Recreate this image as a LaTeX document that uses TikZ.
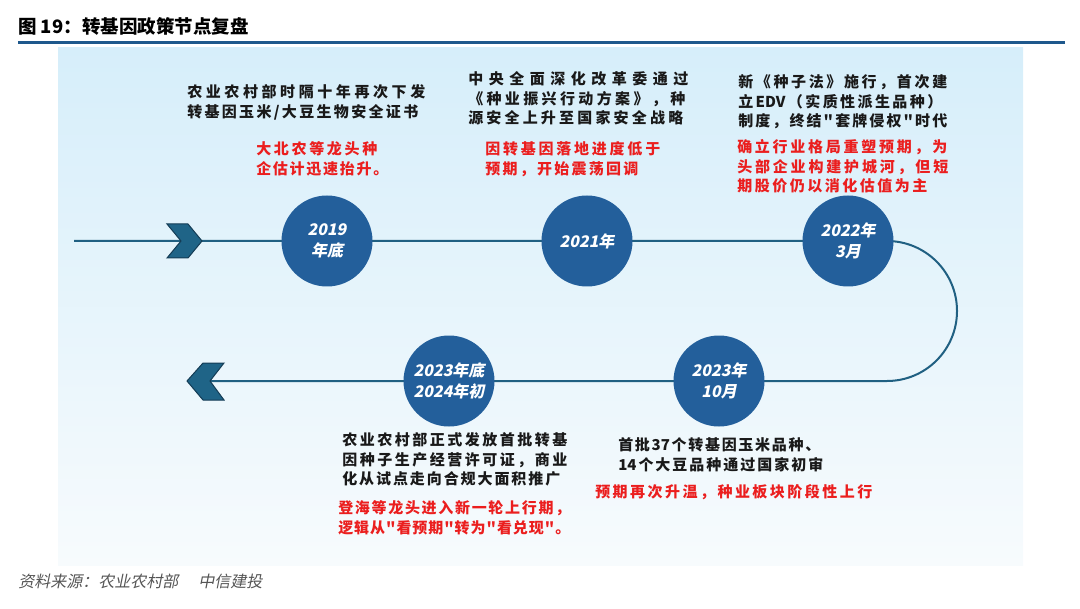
\documentclass[tikz,border=0pt]{standalone}
\usepackage{fontspec}
\setmainfont{Liberation Sans}
\newfontfamily\cjk{Noto Sans CJK SC}
\newfontfamily\cjkit{Noto Sans CJK SC}[FakeSlant=0.2]
\newlength\pxu
\setlength\pxu{0.75pt}
\makeatletter
\newcommand\jl[2]{\hbox to #1\pxu{\@tfor\@jlch:=#2\do{\@jlch\hfil}\unskip}}
\makeatother
\definecolor{rulblue}{RGB}{30,88,140}
\definecolor{circblue}{RGB}{35,95,155}
\definecolor{lineblue}{RGB}{32,96,130}
\definecolor{chevfill}{RGB}{31,100,135}
\definecolor{chevdraw}{RGB}{20,60,85}
\definecolor{txtblack}{RGB}{25,25,25}
\definecolor{txtred}{RGB}{235,30,30}
\definecolor{srcgray}{RGB}{85,85,85}
\definecolor{bgtop}{RGB}{214,238,250}
\definecolor{bgmid}{RGB}{224,243,252}
\definecolor{bgbot}{RGB}{247,251,253}
\tikzset{
  blk/.style={anchor=north west, inner sep=0pt, align=left, text=txtblack,
    font=\cjk\bfseries\fontsize{15\pxu}{19.5\pxu}\selectfont},
  redblk/.style={blk, text=txtred},
  yr/.style={circle, fill=circblue, minimum size=91\pxu, inner sep=0pt, text=white,
    align=center, font=\cjkit\bfseries\fontsize{16\pxu}{21\pxu}\selectfont},
  tl/.style={draw=lineblue, line width=2\pxu},
  chev/.style={fill=chevfill, draw=chevdraw, line width=1\pxu, line join=miter}
}
\begin{document}
\begin{tikzpicture}[x=0.75pt,y=-0.75pt]
\useasboundingbox (0,0) rectangle (1080,609);
% background panel
\shade[top color=bgtop, middle color=bgmid, bottom color=bgbot] (58,48) rectangle (1023,565);
% title and rule
\node[anchor=west, inner sep=0pt, text=black, font=\cjk\bfseries\fontsize{18.5\pxu}{22\pxu}\selectfont] (title) at (18,26) {图 19：转基因政策节点复盘};
\draw[rulblue, line width=3\pxu] (18,43) -- (1065,43);
% circle positions
\coordinate (p1) at (327,241);
\coordinate (p2) at (587,241);
\coordinate (p3) at (848,241);
\coordinate (p4) at (449,381);
\coordinate (p5) at (719,381);
\coordinate (start) at (74,241);
\coordinate (turn) at (887,241);
\coordinate (endL) at (210,381);
% timeline
\draw[tl] (start) -- (p1) -- (p2) -- (p3) -- (turn) arc[start angle=-90, end angle=90, radius=70] -- (p5) -- (p4) -- (endL);
% chevrons
\draw[chev] (167,224) -- (188,224) -- (202,241) -- (188,258) -- (167,258) -- (181,241) -- cycle;
\draw[chev] (187,381) -- (203,363) -- (224,363) -- (210,381) -- (224,400) -- (203,400) -- cycle;
% circles
\node[yr] (c1) at (p1) {2019\\年底};
\node[yr] (c2) at (p2) {2021年};
\node[yr] (c3) at (p3) {2022年\\3月};
\node[yr] (c4) at (p4) {2023年底\\2024年初};
\node[yr] (c5) at (p5) {2023年\\10月};
% text blocks
\node[blk] (b1) at (187,84.5) {\jl{238}{农业农村部时隔十年再次下发}\\\jl{231}{转基因玉米/大豆生物安全证书}};
\node[redblk] (r1) at (256,141.5) {\jl{121}{大北农等龙头种}\\\jl{132}{企估计迅速抬升。}};
\node[blk] (b2) at (468,71.5) {\jl{220}{中央全面深化改革委通过}\\\jl{217}{《种业振兴行动方案》，种}\\\jl{215}{源安全上升至国家安全战略}};
\node[redblk] (r2) at (485,141.5) {\jl{175}{因转基因落地进度低于}\\\jl{153}{预期，开始震荡回调}};
\node[blk] (b3) at (738,74.5) {\jl{209}{新《种子法》施行，首次建}\\\jl{204}{立{EDV}（实质性派生品种）}\\\jl{209}{制度，终结"套牌侵权"时代}};
\node[redblk] (r3) at (737,139.5) {\jl{210}{确立行业格局重塑预期，为}\\\jl{211}{头部企业构建护城河，但短}\\\jl{190}{期股价仍以消化估值为主}};
\node[blk] (b4) at (342,432.5) {\jl{225}{农业农村部正式发放首批转基}\\\jl{225}{因种子生产经营许可证，商业}\\\jl{218}{化从试点走向合规大面积推广}};
\node[redblk] (r4) at (338,500.5) {\jl{232}{登海等龙头进入新一轮上行期，}\\\jl{232}{逻辑从"看预期"转为"看兑现"。}};
\node[blk] (b5) at (618,437.5) {\jl{202}{首批{37}个转基因玉米品种、}\\\jl{205}{{14}个大豆品种通过国家初审}};
\node[redblk] (r5) at (595,484.5) {\jl{277}{预期再次升温，种业板块阶段性上行}};
% source
\node[anchor=west, inner sep=0pt, text=srcgray, font=\cjkit\fontsize{16\pxu}{19\pxu}\selectfont] (src) at (18,581) {资料来源：农业农村部\hspace{20\pxu}中信建投};
\end{tikzpicture}
\end{document}
